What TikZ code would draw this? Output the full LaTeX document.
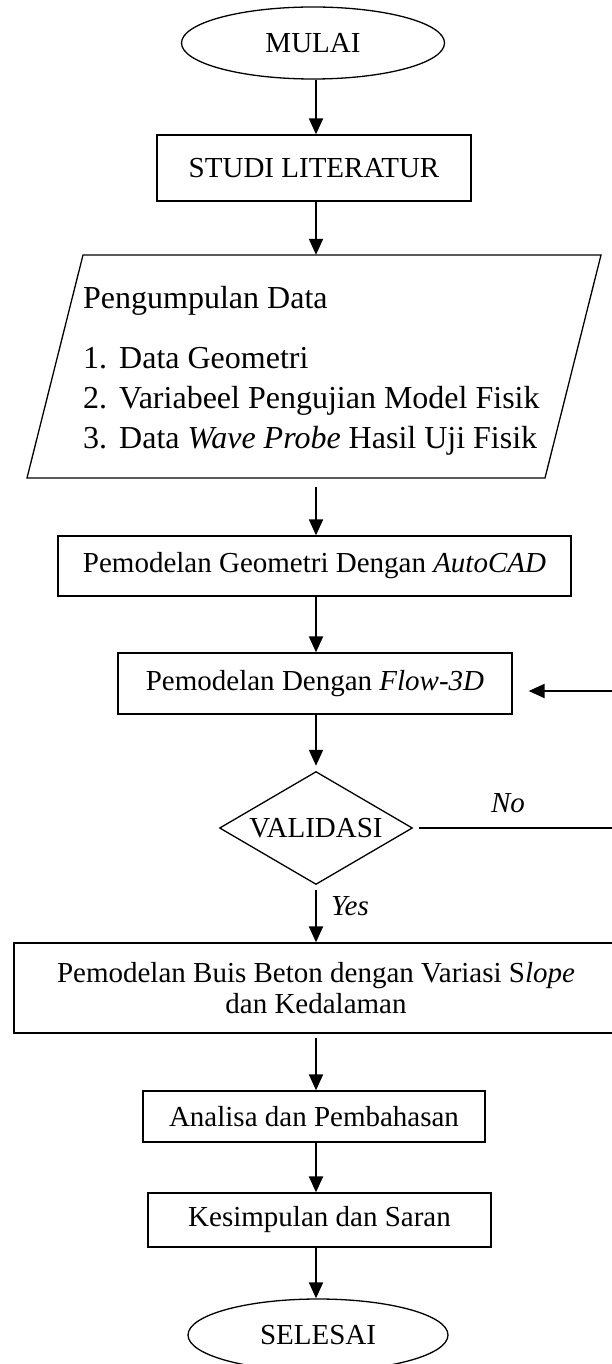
\documentclass[tikz,border=0pt]{standalone}
\usepackage{fontspec}
\setmainfont{Liberation Serif}
\usetikzlibrary{arrows.meta,calc,shapes.geometric}
\newcommand\fsz{\fontsize{29}{31.7}\selectfont}
\newcommand\fbig{\fontsize{32}{40}\selectfont}
\begin{document}
\begin{tikzpicture}[x=1pt,y=-1pt,
  box/.style={draw, line width=1.3pt, inner sep=0pt, font=\fsz},
  term/.style={ellipse, draw, line width=1.3pt, inner sep=0pt, font=\fsz},
  txt/.style={inner sep=0pt, font=\fsz},
  ltxt/.style={inner sep=0pt, font=\fbig, anchor=base west},
  shp/.style={line width=1.3pt},
  conn/.style={line width=2pt},
  arr/.style={line width=2pt, -{Triangle[length=16pt,width=14pt]}}
]
\useasboundingbox (0,0) rectangle (612,1364);
\clip (0,0) rectangle (612,1364);
\fill[white] (0,0) rectangle (612,1364);
\coordinate (xl) at (316,0);

\node[term, minimum width=263pt, minimum height=72pt] (mulai) at (313,43) {MULAI};
\node[box, minimum width=314pt, minimum height=66pt] (studi) at (314,168) {STUDI LITERATUR};

\node[inner sep=0pt, minimum width=574pt, minimum height=223pt] (data) at (314,366.5) {};
\draw[shp] (83,255) -- (601,255) -- (545,478) -- (27,478) -- cycle;
\node[ltxt] (d0) at (83,308) {Pengumpulan Data};
\node[ltxt] (n1) at (83,368) {1.};
\node[ltxt] (t1) at (119,368) {Data Geometri};
\node[ltxt] (n2) at (83,408) {2.};
\node[ltxt] (t2) at (119,408) {Variabeel Pengujian Model Fisik};
\node[ltxt] (n3) at (83,448) {3.};
\node[ltxt] (t3) at (119,448) {Data \textit{Wave Probe} Hasil Uji Fisik};

\node[box, minimum width=513pt, minimum height=60pt] (geo) at (314.5,566) {Pemodelan Geometri Dengan \textit{AutoCAD}};
\node[box, minimum width=394pt, minimum height=61pt] (flow) at (315,683.5) {Pemodelan Dengan \textit{Flow-3D}};

\node[txt, minimum width=192pt, minimum height=112pt] (val) at (316,828) {VALIDASI};
\draw[shp] (val.north) -- (val.east) -- (val.south) -- (val.west) -- cycle;

\node[box, minimum width=604pt, minimum height=90pt, align=center] (buis) at (316,988)
  {Pemodelan Buis Beton dengan Variasi S\textit{lope}\\dan Kedalaman};
\node[box, minimum width=342pt, minimum height=51pt] (ana) at (314,1116.5) {Analisa dan Pembahasan};
\node[box, minimum width=343pt, minimum height=54pt] (kes) at (319.5,1220) {Kesimpulan dan Saran};
\node[term, minimum width=260pt, minimum height=72pt] (sel) at (318,1335) {SELESAI};

\draw[arr] (mulai.south -| xl) -- (studi.north -| xl);
\draw[arr] (studi.south -| xl) -- (data.north -| xl);
\draw[arr, shorten <=9pt] (data.south -| xl) -- (geo.north -| xl);
\draw[arr] (geo.south -| xl) -- (flow.north -| xl);
\draw[arr, shorten >=6pt] (flow.south -| xl) -- (val.north -| xl);
\draw[arr, shorten <=6pt] (val.south -| xl) -- (buis.north -| xl);
\draw[arr, shorten <=4pt] (buis.south -| xl) -- (ana.north -| xl);
\draw[arr] (ana.south -| xl) -- (kes.north -| xl);
\draw[arr] (kes.south -| xl) -- (sel.north -| xl);

\coordinate (rc) at (614,828);
\coordinate (rt) at (614,691);
\draw[conn, shorten <=7pt] (val.east) -- (rc) -- (rt);
\draw[arr, shorten >=16pt] (rt) -- (flow.east |- rt);

\node[txt, anchor=base, font=\fsz\itshape] (no) at (508,812) {No};
\node[txt, anchor=base west, font=\fsz\itshape] (yes) at (331,915) {Yes};
\end{tikzpicture}
\end{document}
